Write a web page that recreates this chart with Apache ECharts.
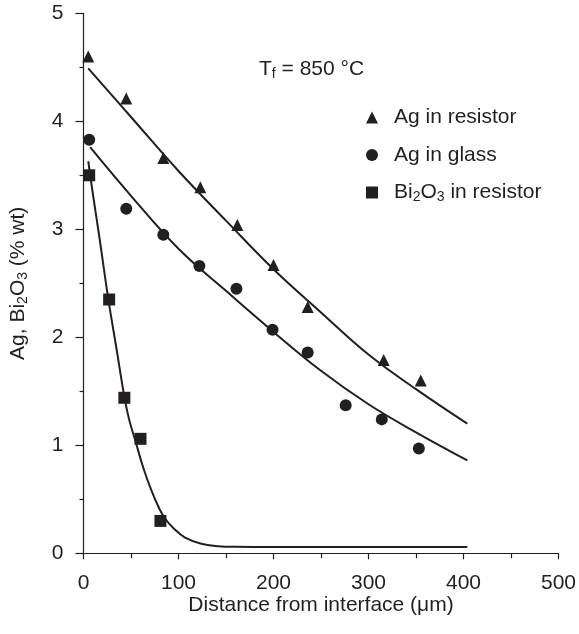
<!DOCTYPE html>
<html>
<head>
<meta charset="utf-8">
<script src="https://cdn.jsdelivr.net/npm/echarts@6/dist/echarts.min.js"></script>
<style>
  html, body { margin: 0; padding: 0; background: #fff; }
  #chart { width: 579px; height: 634px; }
</style>
</head>
<body>
<div id="chart"></div>
<script>
// measured points
const resistX = [5, 45, 84, 123, 162, 200, 236, 316, 355];
const resistY = [4.60, 4.21, 3.66, 3.39, 3.04, 2.67, 2.28, 1.79, 1.60];
const glassX = [6, 45, 84, 122, 161, 199, 236, 276, 314, 353];
const glassY = [3.83, 3.19, 2.95, 2.66, 2.45, 2.07, 1.86, 1.37, 1.24, 0.97];
const biX = [6, 27, 43, 60, 81];
const biY = [3.50, 2.35, 1.44, 1.06, 0.30];

// fitted curves
const fitX = [5, 50, 100, 150, 200, 250, 300, 350, 404];
const resistFitY = [4.49, 4.04, 3.54, 3.08, 2.63, 2.23, 1.84, 1.52, 1.20];
const glassFitY = [3.76, 3.31, 2.82, 2.43, 2.05, 1.69, 1.38, 1.12, 0.86];
const biFitX = [5, 10, 17, 26, 35, 43, 48, 55, 63, 72, 80, 86, 95, 107, 124, 142, 160, 200, 300, 404];
const biFitY = [3.63, 3.32, 2.91, 2.36, 1.88, 1.45, 1.24, 1.03, 0.79, 0.57, 0.41, 0.32, 0.23, 0.145, 0.088, 0.066, 0.06, 0.058, 0.058, 0.058];

const names = ["Ag in resistor", "Ag in glass", "Bi2O3 in resistor"];

const ink = "#231f20";
const font = "'Liberation Sans', Arial, sans-serif";
const fs = 21;

const pairs = (xs, ys) => xs.map((x, i) => [x, ys[i]]);

const subStyle = { fontSize: 14, fontFamily: font, color: ink, fontWeight: "normal", padding: [10, 0, 0, 0] };

const fitLine = (xs, ys) => ({
  type: "line",
  data: pairs(xs, ys),
  showSymbol: false,
  smooth: 0.4,
  lineStyle: { color: ink, width: 2 },
  silent: true,
  z: 1,
});

const dots = (name, symbol, xs, ys) => ({
  name: name,
  type: "scatter",
  symbol: symbol,
  symbolSize: 12,
  itemStyle: { color: ink, opacity: 1 },
  data: pairs(xs, ys),
  z: 3,
});

const chart = echarts.init(document.getElementById("chart"));

const axisLineStyle = { color: ink, width: 1.2 };

const option = {
  animation: false,
  textStyle: { fontFamily: font, color: ink },
  grid: { left: 80, right: 16.5, top: 13.3, bottom: 80.7 },
  title: {
    text: "{t|T}{s|f}{t| = 850 °C}",
    left: 259,
    top: 57,
    padding: 0,
    textStyle: {
      rich: {
        t: { fontSize: fs, fontFamily: font, color: ink, fontWeight: "normal" },
        s: subStyle,
      },
    },
  },
  legend: {
    data: names,
    orient: "vertical",
    left: 366,
    top: 107,
    padding: 0,
    itemWidth: 12,
    itemHeight: 12,
    itemGap: 16.5,
    itemStyle: { opacity: 1 },
    formatter: (n) => (n === "Bi2O3 in resistor" ? "Bi{s|2}O{s|3} in resistor" : n),
    textStyle: {
      fontSize: fs,
      color: ink,
      fontFamily: font,
      padding: [0, 0, 0, 11],
      rich: { s: subStyle },
    },
  },
  xAxis: {
    type: "value",
    min: 0,
    max: 500,
    interval: 100,
    name: "Distance from interface (μm)",
    nameLocation: "middle",
    nameGap: 41,
    nameMoveOverlap: false,
    nameTextStyle: { fontSize: fs, color: ink, fontFamily: font },
    axisLine: { lineStyle: axisLineStyle },
    axisTick: { length: 6, lineStyle: axisLineStyle },
    minorTick: { show: true, splitNumber: 2, length: 5, lineStyle: axisLineStyle },
    axisLabel: { fontSize: fs, color: ink, margin: 19, fontFamily: font },
    splitLine: { show: false },
  },
  yAxis: {
    type: "value",
    min: 0,
    max: 5,
    interval: 1,
    name: "Ag, Bi{s|2}O{s|3} (% wt)",
    nameLocation: "middle",
    nameGap: 53,
    nameMoveOverlap: false,
    nameTextStyle: {
      fontSize: fs,
      color: ink,
      fontFamily: font,
      rich: { s: subStyle },
    },
    axisLine: { show: true, lineStyle: axisLineStyle },
    axisTick: { show: true, length: 8, lineStyle: axisLineStyle },
    minorTick: { show: true, splitNumber: 2, length: 4, lineStyle: axisLineStyle },
    axisLabel: { fontSize: fs, color: ink, margin: 20, fontFamily: font },
    splitLine: { show: false },
  },
  series: [
    fitLine(fitX, resistFitY),
    fitLine([7].concat(fitX.slice(1)), glassFitY),
    fitLine(biFitX, biFitY),
    dots(names[0], "triangle", resistX, resistY),
    dots(names[1], "circle", glassX, glassY),
    dots(names[2], "rect", biX, biY),
  ],
};

chart.setOption(option);
</script>
</body>
</html>
